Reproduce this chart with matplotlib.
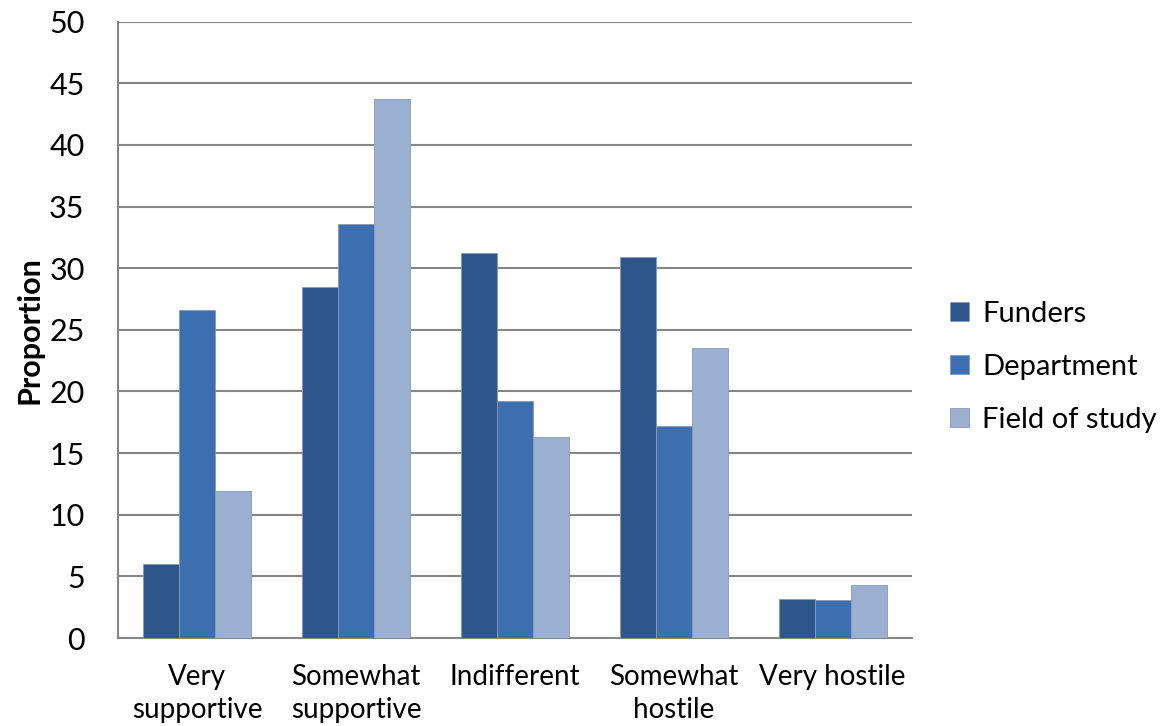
import numpy as np
import matplotlib.pyplot as plt

# attitudes toward the work, by source
categories = ["Very\nsupportive", "Somewhat\nsupportive", "Indifferent",
              "Somewhat\nhostile", "Very hostile"]
funders = [6.0, 28.5, 31.2, 30.9, 3.2]
department = [26.6, 33.6, 19.2, 17.2, 3.1]
field_of_study = [11.9, 43.7, 16.3, 23.5, 4.3]

series = ["Funders", "Department", "Field of study"]
colors = ["#2E568B", "#3D6FB0", "#9BAFD0"]

plt.rcParams['font.family'] = ['Lato', 'DejaVu Sans']

fig = plt.figure(figsize=(11.76, 7.26), dpi=100)
ax = fig.add_axes([0.1003, 0.1212, 0.6752, 0.8489])

x = np.arange(len(categories))
w = 0.227
for i, (vals, name, c) in enumerate(zip([funders, department, field_of_study], series, colors)):
    ax.bar(x + (i - 1) * w, vals, w, color=c, label=name,
           edgecolor="#8a9ab5", linewidth=0.6, zorder=3)

ax.set_xlim(-0.5, len(categories) - 0.5)
ax.set_ylim(0, 50)
ax.set_yticks(range(0, 51, 5))
ax.set_xticks(x)
ax.set_xticklabels(categories, fontsize=20, linespacing=1.3)
ax.tick_params(axis='y', labelsize=22, length=0, pad=24)
ax.tick_params(axis='x', length=0, pad=19)

ax.grid(axis='y', color='#868686', linewidth=1.5, zorder=0)
for s in ['top', 'right']:
    ax.spines[s].set_visible(False)
for s in ['left', 'bottom']:
    ax.spines[s].set_color('#868686')
    ax.spines[s].set_linewidth(1.5)

ax.set_ylabel("Proportion", fontsize=22, fontweight='bold', labelpad=4)

ax.legend(loc='center left', bbox_to_anchor=(1.015, 0.44), frameon=False,
          fontsize=21, handlelength=0.65, handleheight=0.65,
          handletextpad=0.45, labelspacing=0.92)

fig.savefig("out.png", dpi=100)
